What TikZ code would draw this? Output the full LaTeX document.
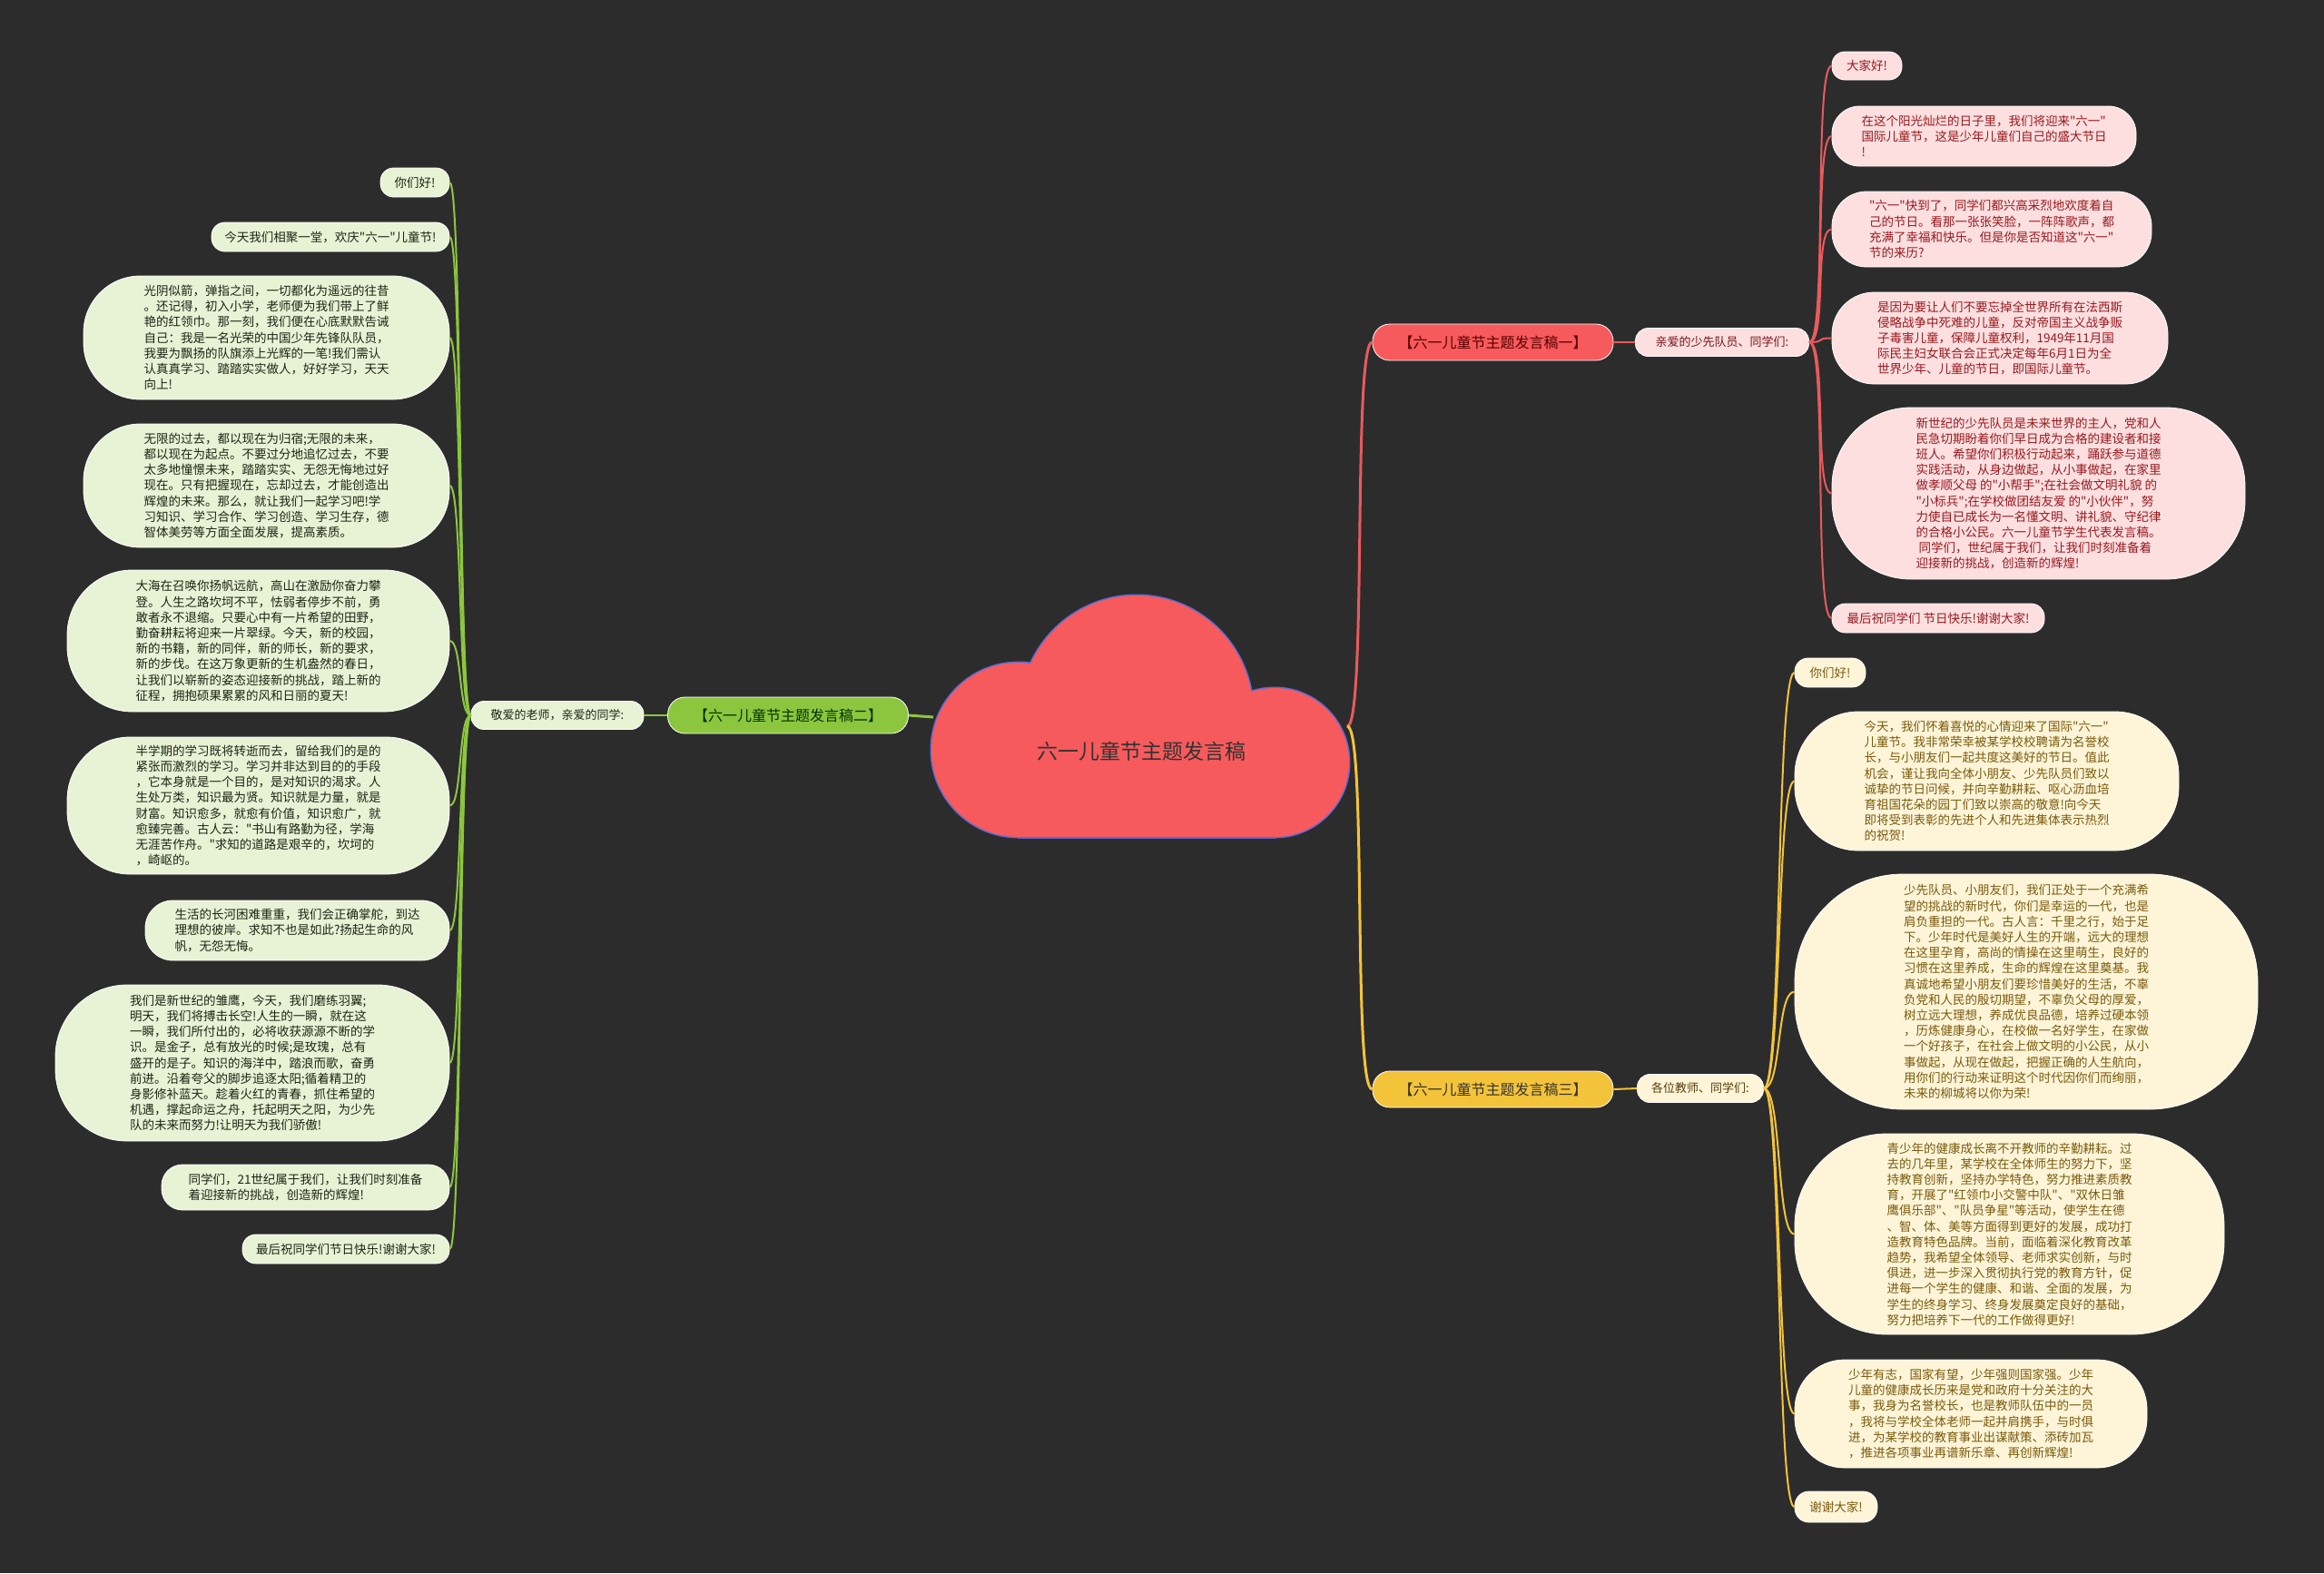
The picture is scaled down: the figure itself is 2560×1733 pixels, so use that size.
\documentclass[tikz,border=0pt]{standalone}
\usepackage{fontspec}
\setmainfont{Noto Sans CJK SC}[Ligatures=TeXOff]
\usepackage{tikz}
\definecolor{figbg}{HTML}{2C2C2C}
\definecolor{cloudred}{HTML}{F65A5C}
\definecolor{cloudline}{HTML}{5A6BD8}
\definecolor{redline}{HTML}{E95A5D}
\definecolor{redfill}{HTML}{FDDFE0}
\definecolor{redtext}{HTML}{971A1E}
\definecolor{greenline}{HTML}{8CC63E}
\definecolor{greenfill}{HTML}{E8F3D6}
\definecolor{greentext}{HTML}{1E2414}
\definecolor{goldline}{HTML}{F3C33A}
\definecolor{goldfill}{HTML}{FEF5D9}
\definecolor{goldtext}{HTML}{7A5A0C}
\tikzset{
  leaf/.style 2 args={draw=white,line width=0.8pt,minimum width=#1pt,minimum height=#2pt,
    rounded corners=0.46*#2pt,inner sep=2pt,align=left,font=\fontsize{13.5}{17.2}\selectfont},
  rleaf/.style 2 args={leaf={#1}{#2},fill=redfill,text=redtext},
  gleaf/.style 2 args={leaf={#1}{#2},fill=greenfill,text=greentext},
  yleaf/.style 2 args={leaf={#1}{#2},fill=goldfill,text=goldtext},
  branch/.style={draw=white,line width=0.8pt,rounded corners=19pt,minimum width=265pt,minimum height=40pt,
    inner sep=2pt,font=\fontsize{16}{18}\selectfont},
  sublabel/.style={draw=white,line width=0.8pt,rounded corners=14pt,minimum height=31pt,inner xsep=10pt,
    inner ysep=2pt,font=\fontsize{13}{15}\selectfont},
  edge/.style={line width=2pt},
}
\begin{document}
\begin{tikzpicture}[x=1pt,y=-1pt]
    \useasboundingbox (0,0) rectangle (2560,1733);
    \fill[figbg] (0,0) rectangle (2560,1733);
    % central cloud
    \foreach \c/\r in {{(1252,784)}/128,{(1122,826)}/96,{(1404,840)}/82}
      \draw[cloudline,line width=3pt] \c circle (\r);
    \draw[cloudline,line width=3pt] (1122,830) rectangle (1404,922);
    \foreach \c/\r in {{(1252,784)}/128,{(1122,826)}/96,{(1404,840)}/82}
      \fill[cloudred] \c circle (\r);
    \fill[cloudred] (1122,830) rectangle (1404,922);
    \node[text=black!80,font=\fontsize{23}{26}\selectfont] (root) at (1257,828) {六一儿童节主题发言稿};
    \coordinate (rootE) at (1484,800);
    \coordinate (rootW) at (1028,790);

    % branch one
    \node[branch,fill=cloudred,text=red!35!black] (lab1) at (1644.5,377) {【六一儿童节主题发言稿一】};
    \node[sublabel,fill=redfill,text=redtext!80!black,minimum width=191pt] (sub1) at (1897,377) {亲爱的少先队员、同学们:};
    \node[rleaf={77}{31}] (r1) at (2056.5,72.5) {大家好!};
    \node[rleaf={335}{66}] (r2) at (2185.5,150) {在这个阳光灿烂的日子里，我们将迎来"六一"\\国际儿童节，这是少年儿童们自己的盛大节日\\!};
    \node[rleaf={352}{83}] (r3) at (2194,252.5) {"六一"快到了，同学们都兴高采烈地欢度着自\\己的节日。看那一张张笑脸，一阵阵歌声，都\\充满了幸福和快乐。但是你是否知道这"六一"\\节的来历?};
    \node[rleaf={370}{101}] (r4) at (2203,372.5) {是因为要让人们不要忘掉全世界所有在法西斯\\侵略战争中死难的儿童，反对帝国主义战争贩\\子毒害儿童，保障儿童权利，1949年11月国\\际民主妇女联合会正式决定每年6月1日为全\\世界少年、儿童的节日，即国际儿童节。};
    \node[rleaf={455}{189}] (r5) at (2245.5,543.5) {新世纪的少先队员是未来世界的主人，党和人\\民急切期盼着你们早日成为合格的建设者和接\\班人。希望你们积极行动起来，踊跃参与道德\\实践活动，从身边做起，从小事做起，在家里\\做孝顺父母 的"小帮手";在社会做文明礼貌 的\\"小标兵";在学校做团结友爱 的"小伙伴"，努\\力使自已成长为一名懂文明、讲礼貌、守纪律\\的合格小公民。六一儿童节学生代表发言稿。\\\ 同学们，世纪属于我们，让我们时刻准备着\\迎接新的挑战，创造新的辉煌!};
    \node[rleaf={234}{32}] (r6) at (2135,681) {最后祝同学们 节日快乐!谢谢大家!};

    % branch two
    \node[branch,fill=greenline,text=green!20!black] (lab2) at (868,788) {【六一儿童节主题发言稿二】};
    \node[sublabel,fill=greenfill,text=greentext,minimum width=190pt] (sub2) at (614,788) {敬爱的老师，亲爱的同学:};
    \node[gleaf={76}{32}] (g1) at (457,201) {你们好!};
    \node[gleaf={262}{32}] (g2) at (364,261) {今天我们相聚一堂，欢庆"六一"儿童节!};
    \node[gleaf={403}{136}] (g3) at (293.5,372) {光阴似箭，弹指之间，一切都化为遥远的往昔\\。还记得，初入小学，老师便为我们带上了鲜\\艳的红领巾。那一刻，我们便在心底默默告诫\\自己：我是一名光荣的中国少年先锋队队员，\\我要为飘扬的队旗添上光辉的一笔!我们需认\\认真真学习、踏踏实实做人，好好学习，天天\\向上!};
    \node[gleaf={403}{136}] (g4) at (293.5,535) {无限的过去，都以现在为归宿;无限的未来，\\都以现在为起点。不要过分地追忆过去，不要\\太多地憧憬未来，踏踏实实、无怨无悔地过好\\现在。只有把握现在，忘却过去，才能创造出\\辉煌的未来。那么，就让我们一起学习吧!学\\习知识、学习合作、学习创造、学习生存，德\\智体美劳等方面全面发展，提高素质。};
    \node[gleaf={421}{156}] (g5) at (284.5,706) {大海在召唤你扬帆远航，高山在激励你奋力攀\\登。人生之路坎坷不平，怯弱者停步不前，勇\\敢者永不退缩。只要心中有一片希望的田野，\\勤奋耕耘将迎来一片翠绿。今天，新的校园，\\新的书籍，新的同伴，新的师长，新的要求，\\新的步伐。在这万象更新的生机盎然的春日，\\让我们以崭新的姿态迎接新的挑战，踏上新的\\征程，拥抱硕果累累的风和日丽的夏天!};
    \node[gleaf={421}{151}] (g6) at (284.5,887.5) {半学期的学习既将转逝而去，留给我们的是的\\紧张而激烈的学习。学习并非达到目的的手段\\，它本身就是一个目的，是对知识的渴求。人\\生处万类，知识最为贤。知识就是力量，就是\\财富。知识愈多，就愈有价值，知识愈广，就\\愈臻完善。古人云："书山有路勤为径，学海\\无涯苦作舟。"求知的道路是艰辛的，坎坷的\\，崎岖的。};
    \node[gleaf={335}{66}] (g7) at (327.5,1025) {生活的长河困难重重，我们会正确掌舵，到达\\理想的彼岸。求知不也是如此?扬起生命的风\\帆，无怨无悔。};
    \node[gleaf={434}{172}] (g8) at (278,1171) {我们是新世纪的雏鹰，今天，我们磨练羽翼;\\明天，我们将搏击长空!人生的一瞬，就在这\\一瞬，我们所付出的，必将收获源源不断的学\\识。是金子，总有放光的时候;是玫瑰，总有\\盛开的是子。知识的海洋中，踏浪而歌，奋勇\\前进。沿着夸父的脚步追逐太阳;循着精卫的\\身影修补蓝天。趁着火红的青春，抓住希望的\\机遇，撑起命运之舟，托起明天之阳，为少先\\队的未来而努力!让明天为我们骄傲!};
    \node[gleaf={317}{50}] (g9) at (336.5,1308) {同学们，21世纪属于我们，让我们时刻准备\\着迎接新的挑战，创造新的辉煌!};
    \node[gleaf={228}{32}] (g10) at (381,1376) {最后祝同学们节日快乐!谢谢大家!};

    % branch three
    \node[branch,fill=goldline,text=black!80] (lab3) at (1644.5,1200) {【六一儿童节主题发言稿三】};
    \node[sublabel,fill=goldfill,text=goldtext!70!black,minimum width=139pt] (sub3) at (1873,1199) {各位教师、同学们:};
    \node[yleaf={78}{32}] (y1) at (2016,741) {你们好!};
    \node[yleaf={423}{153}] (y2) at (2188.5,860.5) {今天，我们怀着喜悦的心情迎来了国际"六一"\\儿童节。我非常荣幸被某学校校聘请为名誉校\\长，与小朋友们一起共度这美好的节日。值此\\机会，谨让我向全体小朋友、少先队员们致以\\诚挚的节日问候，并向辛勤耕耘、呕心沥血培\\育祖国花朵的园丁们致以崇高的敬意!向今天\\即将受到表彰的先进个人和先进集体表示热烈\\的祝贺!};
    \node[yleaf={510}{259}] (y3) at (2232,1092.5) {少先队员、小朋友们，我们正处于一个充满希\\望的挑战的新时代，你们是幸运的一代，也是\\肩负重担的一代。古人言：千里之行，始于足\\下。少年时代是美好人生的开端，远大的理想\\在这里孕育，高尚的情操在这里萌生，良好的\\习惯在这里养成，生命的辉煌在这里奠基。我\\真诚地希望小朋友们要珍惜美好的生活，不辜\\负党和人民的殷切期望，不辜负父母的厚爱，\\树立远大理想，养成优良品德，培养过硬本领\\，历炼健康身心，在校做一名好学生，在家做\\一个好孩子，在社会上做文明的小公民，从小\\事做起，从现在做起，把握正确的人生航向，\\用你们的行动来证明这个时代因你们而绚丽，\\未来的柳城将以你为荣!};
    \node[yleaf={473}{221}] (y4) at (2213.5,1359.5) {青少年的健康成长离不开教师的辛勤耕耘。过\\去的几年里，某学校在全体师生的努力下，坚\\持教育创新，坚持办学特色，努力推进素质教\\育，开展了"红领巾小交警中队"、"双休日雏\\鹰俱乐部"、"队员争星"等活动，使学生在德\\、智、体、美等方面得到更好的发展，成功打\\造教育特色品牌。当前，面临着深化教育改革\\趋势，我希望全体领导、老师求实创新，与时\\俱进，进一步深入贯彻执行党的教育方针，促\\进每一个学生的健康、和谐、全面的发展，为\\学生的终身学习、终身发展奠定良好的基础，\\努力把培养下一代的工作做得更好!};
    \node[yleaf={388}{119}] (y5) at (2171,1557.5) {少年有志，国家有望，少年强则国家强。少年\\儿童的健康成长历来是党和政府十分关注的大\\事，我身为名誉校长，也是教师队伍中的一员\\，我将与学校全体老师一起并肩携手，与时俱\\进，为某学校的教育事业出谋献策、添砖加瓦\\，推进各项事业再谱新乐章、再创新辉煌!};
    \node[yleaf={91}{34}] (y6) at (2022.5,1660) {谢谢大家!};

    % connectors
    \draw[redline,line width=3pt] (rootE) .. controls +(22,0) and +(-22,0) .. (lab1.west);
    \draw[goldline,line width=3pt] (rootE) .. controls +(22,0) and +(-22,0) .. (lab3.west);
    \draw[greenline,line width=3pt] (rootW) -- (lab2.east);
    \draw[redline,edge] (lab1.east) -- (sub1.west);
    \draw[greenline,edge] (lab2.west) -- (sub2.east);
    \draw[goldline,edge] (lab3.east) -- (sub3.west);
    \foreach \n in {r1,r2,r3,r4,r5,r6}
      \draw[redline,edge] (sub1.east) .. controls +(20,0) and +(-20,0) .. (\n.west);
    \foreach \n in {g1,g2,g3,g4,g5,g6,g7,g8,g9,g10}
      \draw[greenline,edge] (sub2.west) .. controls +(-14,0) and +(14,0) .. (\n.east);
    \foreach \n in {y1,y2,y3,y4,y5,y6}
      \draw[goldline,edge] (sub3.east) .. controls +(20,0) and +(-20,0) .. (\n.west);
\end{tikzpicture}
\end{document}
